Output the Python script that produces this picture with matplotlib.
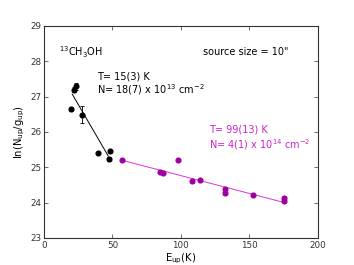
import numpy as np
import matplotlib
matplotlib.use("Agg")
import matplotlib.pyplot as plt

# Cold component (black)
e_cold = [19.7, 21.7, 23.6, 28.0, 39.6, 47.2, 48.4]
y_cold = [26.65, 27.20, 27.29, 26.49, 25.40, 25.24, 25.45]
err_cold = [0.06, 0.08, 0.09, 0.25, 0.03, 0.05, 0.04]
T_cold, a_cold = 15.0, 28.45
fit_cold_range = [20.7, 47.0]

# Warm component (magenta)
e_warm = [56.7, 85.0, 87.1, 98.0, 107.8, 113.9, 132.1, 132.1, 152.6, 175.2, 175.2]
y_warm = [25.20, 24.88, 24.85, 25.20, 24.60, 24.63, 24.39, 24.26, 24.21, 24.14, 24.05]
err_warm = [0.03, 0.05, 0.05, 0.03, 0.05, 0.04, 0.04, 0.04, 0.03, 0.04, 0.04]
T_warm, a_warm = 99.0, 25.775
fit_warm_range = [56.7, 174.7]

fig = plt.figure(figsize=(3.54, 2.65), dpi=100)
ax = fig.add_axes([0.124, 0.102, 0.774, 0.80])

ax.errorbar(e_cold, y_cold, yerr=err_cold, fmt='o', color='black', ms=3.4,
            elinewidth=0.6, capsize=1.5, capthick=0.6, zorder=3)
xc = np.array(fit_cold_range)
ax.plot(xc, a_cold - xc / T_cold, color='black', lw=0.7)

pt_col = '#a000a0'
ln_col = '#dd33dd'
ax.errorbar(e_warm, y_warm, yerr=err_warm, fmt='o', color=pt_col, ms=3.4,
            elinewidth=0.6, capsize=1.5, capthick=0.6, zorder=3)
xw = np.array(fit_warm_range)
ax.plot(xw, a_warm - xw / T_warm, color=ln_col, lw=0.7)

ax.set_xlim(0, 200)
ax.set_ylim(23, 29)
ax.set_xticks([0, 50, 100, 150, 200])
ax.set_yticks([23, 24, 25, 26, 27, 28, 29])
ax.tick_params(direction='in', top=True, right=True, labelsize=6.3, length=3,
               width=0.5, pad=2, colors='#333333')
for s in ax.spines.values():
    s.set_linewidth(0.8)
    s.set_color('#333333')

ax.set_xlabel(r'E$_{\rm up}$(K)', fontsize=7.2, labelpad=1)
ax.set_ylabel(r'ln(N$_{\rm up}$/g$_{\rm up}$)', fontsize=7.2, labelpad=2)

fs = 7
ax.text(11, 28.26, r'$^{13}$CH$_3$OH', fontsize=fs, va='center', ha='left')
ax.text(147, 28.26, 'source size = 10"', fontsize=fs, va='center', ha='center')
ax.text(38.7, 27.56, 'T= 15(3) K', fontsize=fs, va='center', ha='left')
ax.text(38.7, 27.19, r'N= 18(7) x 10$^{13}$ cm$^{-2}$', fontsize=fs, va='center', ha='left')
ax.text(120.4, 26.08, 'T= 99(13) K', fontsize=fs, va='center', ha='left', color='#cc22cc')
ax.text(120.4, 25.63, r'N= 4(1) x 10$^{14}$ cm$^{-2}$', fontsize=fs, va='center', ha='left', color='#cc22cc')

fig.savefig('out.png', dpi=100)
